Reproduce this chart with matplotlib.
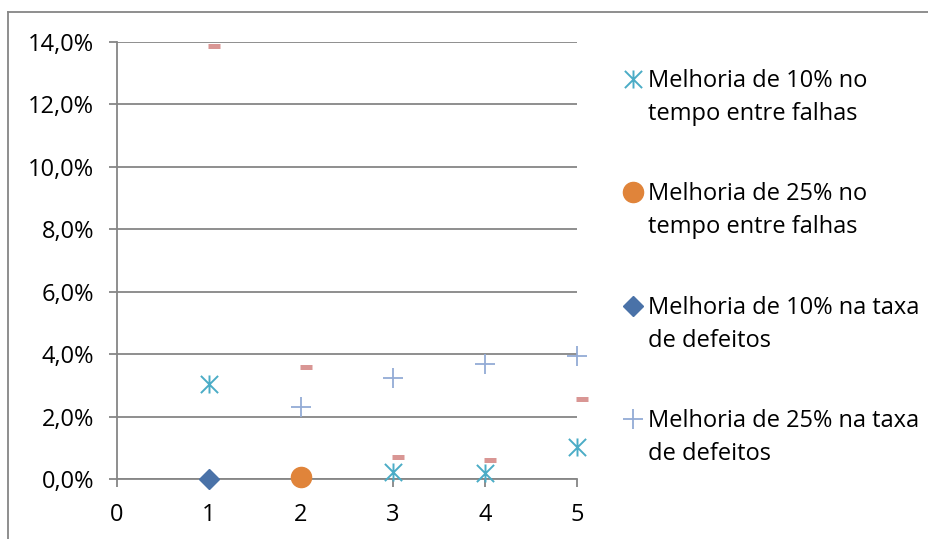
import matplotlib
matplotlib.use("Agg")
import matplotlib.pyplot as plt
from matplotlib.path import Path
from matplotlib.lines import Line2D
from matplotlib.ticker import FuncFormatter

plt.rcParams['font.family'] = ['Open Sans', 'DejaVu Sans']

# --- data -------------------------------------------------------------
s1_label = ["Melhoria de 10% no", "tempo entre falhas"]
s1_x = [1, 3, 4, 5]
s1_y = [3.03, 0.21, 0.19, 1.04]

s2_label = ["Melhoria de 25% no", "tempo entre falhas"]
s2_x = [2]
s2_y = [0.05]

s3_label = ["Melhoria de 10% na taxa", "de defeitos"]
s3_x = [1]
s3_y = [0.0]

s4_label = ["Melhoria de 25% na taxa", "de defeitos"]
s4_x = [2, 3, 4, 5]
s4_y = [2.30, 3.23, 3.68, 3.94]

s5_x = [1.05, 2.05, 3.05, 4.05, 5.05]
s5_y = [13.88, 3.60, 0.70, 0.61, 2.57]

x_ticks = [0, 1, 2, 3, 4, 5]
y_ticks = [0, 2, 4, 6, 8, 10, 12, 14]

# --- styling ------------------------------------------------------------
W, H, DPI = 929, 539, 100
GRID = "#868686"
FS = 17

# asterisk: an X with a vertical bar
star_path = Path(
    [(-1, -1), (1, 1), (-1, 1), (1, -1), (0, -1.05), (0, 1.05)],
    [Path.MOVETO, Path.LINETO, Path.MOVETO, Path.LINETO, Path.MOVETO, Path.LINETO],
)

fig = plt.figure(figsize=(W / DPI, H / DPI), dpi=DPI)
ax = fig.add_axes([117 / W, 1 - 479 / H, (577 - 117) / W, (479 - 42) / H])

ax.set_xlim(0, 5)
ax.set_ylim(0, 14)

h1, = ax.plot(s1_x, s1_y, linestyle="none", marker=star_path, markersize=13,
              markerfacecolor="none", markeredgecolor="#4BACC6", markeredgewidth=1.4,
              clip_on=False, zorder=5)
h2, = ax.plot(s2_x, s2_y, linestyle="none", marker="o", markersize=14.5,
              markerfacecolor="#E0843A", markeredgecolor="#E0843A", clip_on=False, zorder=5)
h3, = ax.plot(s3_x, s3_y, linestyle="none", marker="D", markersize=10.5,
              markerfacecolor="#4A72A8", markeredgecolor="#4A72A8", clip_on=False, zorder=5)
h4, = ax.plot(s4_x, s4_y, linestyle="none", marker="+", markersize=14,
              markeredgecolor="#93ABD6", markeredgewidth=1.3, clip_on=False, zorder=5)
ax.plot(s5_x, s5_y, linestyle="none", marker="_", markersize=8,
        markeredgecolor="#D99694", markeredgewidth=3.6, clip_on=False, zorder=5)

# axes, ticks and grid
ax.set_yticks(y_ticks)
ax.set_xticks(x_ticks)
ax.yaxis.set_major_formatter(FuncFormatter(lambda v, p: f"{v:.1f}%".replace(".", ",")))
ax.grid(axis="y", color=GRID, linewidth=1.3)
ax.set_axisbelow(True)
for side in ("top", "right"):
    ax.spines[side].set_visible(False)
for side in ("left", "bottom"):
    ax.spines[side].set_color(GRID)
    ax.spines[side].set_linewidth(1.3)
ax.tick_params(axis="both", direction="out", length=5.5, width=1.3, color=GRID,
               labelsize=FS, labelcolor="black")
ax.tick_params(axis="x", pad=12)
ax.tick_params(axis="y", pad=11)

# legend: first line carries the marker, second line is set underneath
handles = [h1, h2, h3, h4]
labels = [s1_label, s2_label, s3_label, s4_label]
leg = fig.legend(handles, [l[0] for l in labels], loc="upper left",
                 bbox_to_anchor=(622 / W, 1 - 69 / H), frameon=False,
                 fontsize=FS, handlelength=0.95, handletextpad=0.17,
                 borderpad=0, borderaxespad=0, labelspacing=3.79)

fig.canvas.draw()
for t, l in zip(leg.get_texts(), labels):
    bb = t.get_window_extent()
    x_fig = bb.x0 / W
    y_fig = (bb.y0 + bb.y1) / 2 / H - 33 / H
    fig.text(x_fig, y_fig, l[1], va="center", ha="left", fontsize=FS, color="black")

# outer chart frame
fig.add_artist(Line2D([8 / W, 8 / W], [-0.1, 1 - 12 / H], transform=fig.transFigure,
                      color=GRID, linewidth=1.3))
fig.add_artist(Line2D([8 / W, 1.1], [1 - 12 / H, 1 - 12 / H], transform=fig.transFigure,
                      color=GRID, linewidth=1.3))

fig.savefig("out.png", dpi=DPI)
